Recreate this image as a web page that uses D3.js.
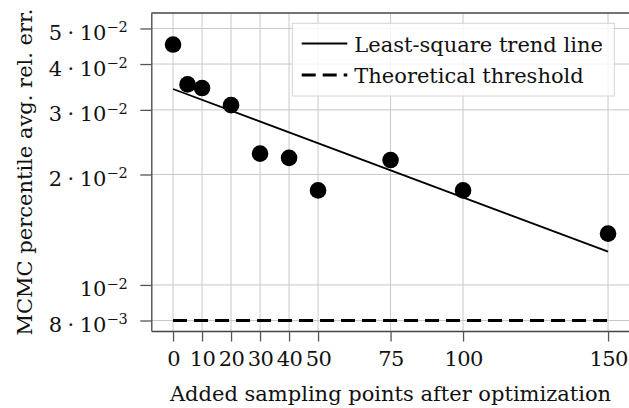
<!DOCTYPE html>
<html><head><meta charset="utf-8">
<script src="https://cdn.jsdelivr.net/npm/d3@7"></script>
<style>body{margin:0;background:#fff}svg{display:block}text{font-family:"DejaVu Serif",serif;fill:#111}</style>
</head><body>
<script>
const xValues = [0, 5, 10, 20, 30, 40, 50, 75, 100, 150];
const yValues = [0.0452, 0.0352, 0.0344, 0.0309, 0.0228, 0.0222, 0.0181, 0.0219, 0.0181, 0.0138];
const trendX = [0, 150];
const trendY = [0.0342, 0.01232];
const thresholdX = [0, 150];
const thresholdY = [0.008, 0.008];
const xTicks = [0, 10, 20, 30, 40, 50, 75, 100, 150];
const yTicks = [0.05, 0.04, 0.03, 0.02, 0.01, 0.008];
const yTickMant = ["5", "4", "3", "2", "", "8"];
const yTickExp = ["−2", "−2", "−2", "−2", "−2", "−3"];
const legendLabels = ["Least-square trend line", "Theoretical threshold"];
const xLabel = "Added sampling points after optimization";
const yLabel = "MCMC percentile avg. rel. err.";

const W = 629, H = 408;
const L = 151.3, R = 629.8, T = 13, B = 331;
const FS = 21;
const svg = d3.select("body").append("svg").attr("width", W).attr("height", H);
const x = d3.scaleLinear().domain([-7.5, 157.5]).range([L, R]);
const y = d3.scaleLog().domain([0.00749, 0.0551]).range([B, T]);

// grid
const grid = svg.append("g");
grid.selectAll("line.v").data(xTicks).join("line")
  .attr("x1", d => x(d)).attr("x2", d => x(d)).attr("y1", T).attr("y2", B)
  .attr("stroke", "#c8c8c8").attr("stroke-width", 1);
grid.selectAll("line.h").data(yTicks).join("line")
  .attr("y1", d => y(d)).attr("y2", d => y(d)).attr("x1", L).attr("x2", R)
  .attr("stroke", "#c8c8c8").attr("stroke-width", 1);

// axes
const xAxis = svg.append("g").attr("transform", `translate(0,${B})`)
  .call(d3.axisBottom(x).tickValues(xTicks).tickSize(10.5).tickSizeOuter(0).tickPadding(9.5));
xAxis.select(".domain").attr("stroke", "#444").attr("stroke-width", 1.3);
xAxis.selectAll(".tick line").attr("stroke", "#555").attr("stroke-width", 1.3);
xAxis.selectAll(".tick text").attr("font-size", FS).attr("font-family", "DejaVu Serif").attr("fill", "#111").attr("dy", "0.71em").attr("letter-spacing", -0.6);

const yAxis = svg.append("g").attr("transform", `translate(${L},0)`)
  .call(d3.axisLeft(y).tickValues(yTicks).tickSize(11).tickSizeOuter(0).tickFormat(""));
yAxis.select(".domain").attr("stroke", "#444").attr("stroke-width", 1.3);
yAxis.selectAll(".tick line").attr("stroke", "#555").attr("stroke-width", 1.3);
yAxis.selectAll(".tick").each(function(d, i) {
  const t = d3.select(this).append("text").attr("x", -23.5).attr("y", 11)
    .attr("text-anchor", "end").attr("font-size", FS).attr("fill", "#111");
  if (yTickMant[i]) {
    t.append("tspan").text(yTickMant[i]);
    t.append("tspan").attr("dx", 5.5).text("·");
    t.append("tspan").attr("dx", 5.5).text("10");
  } else {
    t.append("tspan").text("10");
  }
  t.append("tspan").attr("dy", -7.6).attr("font-size", 14.5).text(yTickExp[i]);
});

// top frame
svg.append("line").attr("x1", L).attr("x2", R).attr("y1", T).attr("y2", T).attr("stroke", "#444").attr("stroke-width", 1.3);

// threshold line
const line = d3.line().x(d => x(d[0])).y(d => y(d[1]));
svg.append("path").datum(thresholdX.map((v, i) => [v, thresholdY[i]]))
  .attr("d", line).attr("fill", "none").attr("stroke", "#000").attr("stroke-width", 3).attr("stroke-dasharray", "14,7");
// trend line
svg.append("path").datum(trendX.map((v, i) => [v, trendY[i]]))
  .attr("d", line).attr("fill", "none").attr("stroke", "#000").attr("stroke-width", 1.8);

// points
svg.selectAll("circle.pt").data(xValues).join("circle")
  .attr("cx", d => x(d)).attr("cy", (d, i) => y(yValues[i])).attr("r", 8.3).attr("fill", "#000");

// legend
const lg = svg.append("g");
lg.append("rect").attr("x", 292.3).attr("y", 23.3).attr("width", 322).attr("height", 72.7)
  .attr("fill", "#fff").attr("fill-opacity", 0.82).attr("stroke", "#d4d4d4").attr("stroke-width", 1);
lg.append("line").attr("x1", 301.7).attr("x2", 347.3).attr("y1", 43.5).attr("y2", 43.5).attr("stroke", "#000").attr("stroke-width", 1.8);
lg.append("line").attr("x1", 301.7).attr("x2", 347.3).attr("y1", 75).attr("y2", 75).attr("stroke", "#000").attr("stroke-width", 3).attr("stroke-dasharray", "14,7");
lg.selectAll("text.lg").data(legendLabels).join("text")
  .attr("x", 354.3).attr("y", (d, i) => 51.5 + i * 31).attr("font-size", FS).text(d => d);

// axis labels
svg.append("text").attr("x", (L + R) / 2).attr("y", 401).attr("text-anchor", "middle").attr("font-size", FS).text(xLabel);
svg.append("text").attr("transform", `translate(31.5,${(T + B) / 2}) rotate(-90)`).attr("text-anchor", "middle").attr("font-size", FS).text(yLabel);
</script>
</body></html>
